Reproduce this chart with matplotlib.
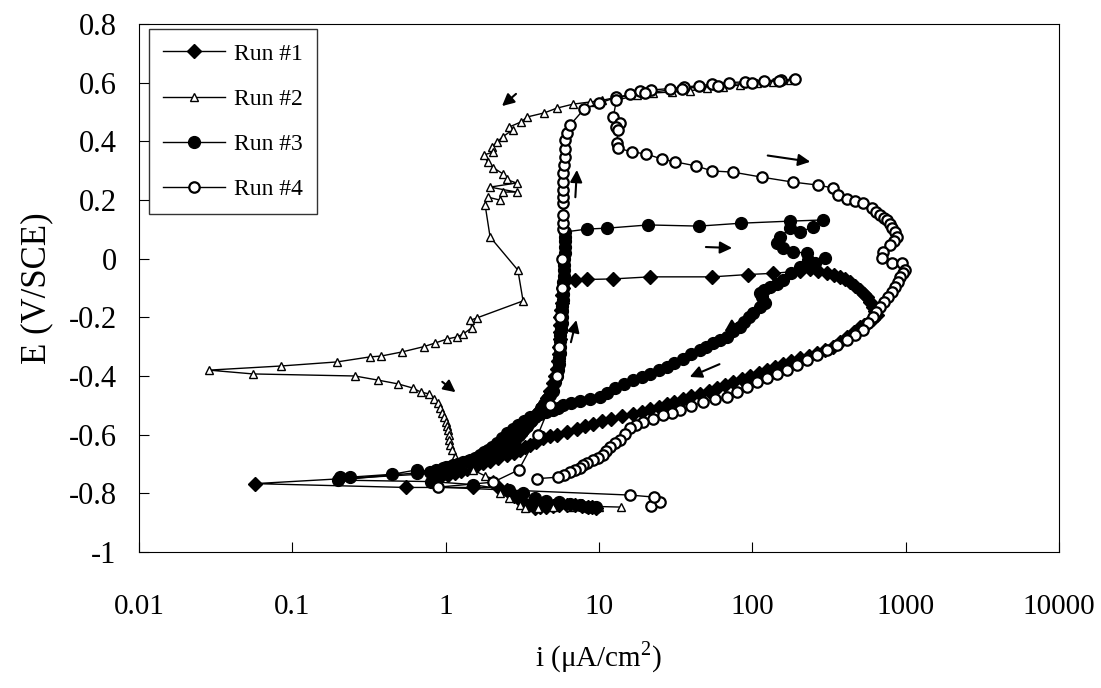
import matplotlib
matplotlib.use("Agg")
import matplotlib.pyplot as plt
import numpy as np

plt.rcParams['font.family'] = ['Liberation Serif', 'DejaVu Serif']
plt.rcParams['mathtext.fontset'] = 'custom'
plt.rcParams['mathtext.rm'] = 'Liberation Serif'
plt.rcParams['axes.unicode_minus'] = False

# datos: (i en uA/cm2, E en V/SCE)
run1 = [(9.5, -0.85), (9.0, -0.848), (8.5, -0.845), (7.8, -0.843), (7.0, -0.84), (6.2, -0.84),
        (5.5, -0.84), (5.0, -0.842), (4.5, -0.845), (4.1, -0.848), (3.8, -0.85), (3.5, -0.84),
        (3.2, -0.83), (3.0, -0.82), (2.8, -0.81), (2.65, -0.80), (2.5, -0.79), (2.2, -0.78),
        (1.5, -0.78), (0.55, -0.78), (0.057, -0.767),
        (1.0, -0.73), (1.3, -0.715), (1.6, -0.70), (1.9, -0.68), (2.2, -0.66), (2.5, -0.64),
        (2.8, -0.62), (3.05, -0.60), (3.3, -0.58), (3.55, -0.56), (3.8, -0.54), (4.05, -0.52),
        (4.3, -0.50), (4.55, -0.475), (4.8, -0.45), (5.0, -0.425), (5.2, -0.40), (5.3, -0.375),
        (5.4, -0.35), (5.45, -0.325), (5.5, -0.30), (5.55, -0.275), (5.6, -0.25), (5.6, -0.225),
        (5.6, -0.20), (5.65, -0.175), (5.7, -0.15), (5.75, -0.125), (5.8, -0.10), (6.0, -0.075),
        (7.0, -0.073), (8.3, -0.071), (12.4, -0.069), (21.5, -0.062), (55, -0.062), (94, -0.054),
        (137, -0.05), (205, -0.042), (238, -0.035),
        (270, -0.042), (307, -0.049), (340, -0.056), (374, -0.063), (405, -0.071), (435, -0.08),
        (470, -0.093), (505, -0.107), (535, -0.119), (561, -0.131), (590, -0.148), (614, -0.165),
        (635, -0.178), (652, -0.192), (610, -0.205), (569, -0.219), (535, -0.226), (505, -0.233),
        (460, -0.25), (415, -0.267), (375, -0.284), (336, -0.301), (300, -0.312), (265, -0.322),
        (235, -0.331), (205, -0.340), (180, -0.35), (159, -0.360), (140, -0.37), (125, -0.380),
        (110, -0.39), (97, -0.400), (86, -0.411), (75, -0.422), (66, -0.431), (59, -0.440),
        (52, -0.45), (45.7, -0.460), (40, -0.469), (35.4, -0.478), (31, -0.487), (27.8, -0.496),
        (24.5, -0.505), (21.5, -0.514), (19, -0.522), (16.7, -0.530), (14.2, -0.538), (12.0, -0.545),
        (10.5, -0.553), (9.2, -0.562), (8.1, -0.571), (7.2, -0.580), (6.2, -0.59), (5.3, -0.600),
        (4.8, -0.606), (4.3, -0.613), (3.9, -0.624), (3.55, -0.635), (3.3, -0.643), (3.06, -0.652),
        (2.8, -0.661), (2.52, -0.670), (2.2, -0.68), (1.95, -0.690), (1.75, -0.697), (1.6, -0.705),
        (1.48, -0.711), (1.38, -0.718), (1.26, -0.724), (1.16, -0.730), (1.04, -0.737), (0.92, -0.745)]

run2 = [(177, 0.609), (136, 0.603), (107, 0.600), (83, 0.592), (64, 0.585), (51, 0.582),
        (39, 0.572), (30, 0.568), (22.6, 0.565), (17.7, 0.558), (13, 0.550), (10.5, 0.540),
        (8.7, 0.534), (6.8, 0.527), (5.3, 0.513), (4.4, 0.497), (3.4, 0.483), (3.1, 0.466),
        (2.6, 0.449), (2.75, 0.440), (2.35, 0.415), (2.17, 0.398), (2.0, 0.380), (2.05, 0.364),
        (1.77, 0.353), (1.88, 0.330), (2.05, 0.310), (2.35, 0.290), (2.5, 0.270), (2.9, 0.258),
        (1.95, 0.244), (2.9, 0.227), (2.35, 0.227), (2.25, 0.200), (1.88, 0.210), (1.81, 0.183),
        (1.95, 0.074), (2.96, -0.039), (3.2, -0.144), (1.6, -0.202), (1.45, -0.210),
        (1.48, -0.236), (1.3, -0.257), (1.18, -0.267), (1.02, -0.274), (0.85, -0.288),
        (0.72, -0.300), (0.52, -0.318), (0.38, -0.332), (0.32, -0.335), (0.196, -0.352),
        (0.084, -0.366), (0.0286, -0.380), (0.0555, -0.393), (0.256, -0.400), (0.362, -0.414),
        (0.49, -0.427), (0.61, -0.441), (0.69, -0.455), (0.78, -0.461), (0.84, -0.478),
        (0.89, -0.492), (0.92, -0.509), (0.95, -0.526), (0.98, -0.541), (1.0, -0.557),
        (1.02, -0.570), (1.04, -0.584), (1.045, -0.600), (1.05, -0.618), (1.07, -0.635),
        (1.1, -0.652), (1.15, -0.676), (1.3, -0.700), (1.5, -0.720), (1.8, -0.740),
        (2.04, -0.751), (2.26, -0.799), (2.6, -0.816), (3.06, -0.840), (3.3, -0.850),
        (4.0, -0.850), (5.0, -0.845), (6.5, -0.845), (8.0, -0.845), (10.0, -0.845), (14.0, -0.847)]

run3 = [(9.5, -0.848), (8.5, -0.845), (7.5, -0.84), (6.5, -0.835), (5.5, -0.83), (4.5, -0.825),
        (3.8, -0.815), (3.2, -0.80), (2.6, -0.79), (1.5, -0.77), (0.8, -0.76), (0.2, -0.755),
        (0.65, -0.73), (1.0, -0.71), (1.2, -0.70), (1.4, -0.69), (1.6, -0.68), (1.8, -0.67),
        (2.0, -0.66), (2.2, -0.65), (2.4, -0.635), (2.6, -0.62), (2.8, -0.61), (3.0, -0.60),
        (3.2, -0.585), (3.4, -0.57), (3.6, -0.555), (3.8, -0.54), (4.0, -0.525), (4.2, -0.51),
        (4.4, -0.495), (4.6, -0.48), (4.8, -0.465), (5.0, -0.45), (5.2, -0.42), (5.3, -0.40),
        (5.4, -0.38), (5.45, -0.36), (5.5, -0.34), (5.55, -0.32), (5.6, -0.30), (5.6, -0.28),
        (5.6, -0.26), (5.65, -0.24), (5.7, -0.22), (5.7, -0.20), (5.7, -0.18), (5.75, -0.16),
        (5.8, -0.14), (5.8, -0.12), (5.8, -0.10), (5.85, -0.08), (5.9, -0.06), (5.9, -0.04),
        (5.9, -0.02), (5.95, 0.0), (6.0, 0.02), (6.0, 0.04), (6.0, 0.06), (6.0, 0.075),
        (6.0, 0.091), (8.4, 0.101), (11.3, 0.104), (21, 0.115), (45, 0.111), (85, 0.121),
        (177, 0.128), (290, 0.132),
        (249, 0.108), (205, 0.091), (177, 0.104), (152, 0.074), (145, 0.053), (159, 0.036),
        (185, 0.023), (228, 0.019), (257, -0.015), (299, 0.002), (231, -0.005), (205, -0.029),
        (180, -0.05), (159, -0.073), (145, -0.085), (131, -0.097), (120, -0.107), (112, -0.117),
        (115, -0.13), (121, -0.151), (112, -0.165), (101, -0.185), (95, -0.2), (88, -0.215),
        (83, -0.233), (75, -0.248), (68.5, -0.267), (62, -0.278), (55.5, -0.288), (50, -0.3),
        (45.7, -0.311), (40, -0.326), (35.4, -0.342), (31, -0.356), (27.8, -0.369), (24.5, -0.381),
        (21.5, -0.393), (19, -0.404), (16.7, -0.414), (14.5, -0.428), (12.7, -0.441), (11.3, -0.457),
        (10.2, -0.472), (8.7, -0.479), (7.5, -0.485), (6.6, -0.492), (5.8, -0.499), (5.4, -0.508),
        (5.0, -0.516), (4.5, -0.523), (4.13, -0.53), (3.8, -0.535), (3.55, -0.54), (3.25, -0.553),
        (2.97, -0.567), (2.75, -0.58), (2.52, -0.594), (2.33, -0.61), (2.16, -0.629), (2.0, -0.641),
        (1.89, -0.652), (1.78, -0.66), (1.68, -0.669), (1.55, -0.678), (1.44, -0.687), (1.3, -0.693),
        (1.2, -0.699), (1.12, -0.704), (1.04, -0.709), (0.96, -0.714), (0.87, -0.72), (0.79, -0.727),
        (0.65, -0.72), (0.45, -0.735), (0.238, -0.745), (0.205, -0.745)]

run4 = [(22, -0.843), (25, -0.83), (23, -0.813), (16, -0.806), (0.89, -0.779), (2.04, -0.762),
        (3.0, -0.72), (4.0, -0.60), (4.8, -0.50), (5.3, -0.40), (5.5, -0.30), (5.6, -0.20),
        (5.7, -0.10), (5.7, 0.0), (5.8, 0.10), (5.8, 0.12), (5.8, 0.15), (5.8, 0.19), (5.8, 0.21),
        (5.8, 0.234), (5.8, 0.26), (5.8, 0.292), (5.9, 0.32), (6.0, 0.347), (6.0, 0.375),
        (6.0, 0.404), (6.2, 0.43), (6.5, 0.456), (8.0, 0.51), (10, 0.53), (13, 0.55),
        (16, 0.56), (18.5, 0.57), (22, 0.575), (29, 0.58), (36, 0.585), (45, 0.59), (55, 0.595),
        (70, 0.60), (90, 0.603), (120, 0.607), (155, 0.609), (190, 0.612),
        (150, 0.607), (100, 0.60), (60, 0.59), (35, 0.58), (20, 0.565), (13, 0.54),
        (12.4, 0.483), (13.7, 0.462), (12.9, 0.449), (13.3, 0.44), (13.1, 0.394), (13.3, 0.377),
        (16.4, 0.364), (20.3, 0.357), (25.6, 0.34), (31.5, 0.33), (43, 0.316), (55, 0.299),
        (75, 0.295), (115, 0.278), (184, 0.261), (267, 0.251), (336, 0.241), (360, 0.217),
        (415, 0.203), (470, 0.197), (528, 0.19), (604, 0.173), (640, 0.16), (682, 0.149),
        (720, 0.14), (760, 0.132), (790, 0.118), (817, 0.104), (850, 0.09), (880, 0.074),
        (835, 0.06), (793, 0.046), (713, 0.023), (700, 0.002), (817, -0.015), (948, -0.015),
        (993, -0.039), (960, -0.05), (921, -0.063), (890, -0.08), (855, -0.097), (810, -0.114),
        (769, -0.131), (725, -0.148), (682, -0.165), (645, -0.182), (614, -0.199), (570, -0.221),
        (528, -0.243), (470, -0.26), (415, -0.277), (355, -0.294), (307, -0.311), (265, -0.328),
        (228, -0.346), (195, -0.363), (169, -0.38), (145, -0.393), (125, -0.407), (108, -0.422),
        (92.5, -0.438), (80, -0.455), (68.5, -0.472), (57, -0.48), (47.8, -0.489), (40, -0.503),
        (33.8, -0.516), (30, -0.525), (26.2, -0.533), (22.5, -0.545), (19.4, -0.557),
        (17.5, -0.567), (16, -0.577), (14.8, -0.597), (13.7, -0.618), (12.7, -0.63),
        (11.8, -0.642), (11.2, -0.655), (10.6, -0.669), (9.8, -0.678), (9.2, -0.687),
        (8.4, -0.697), (7.9, -0.705), (7.5, -0.714), (7.0, -0.721), (6.5, -0.728), (5.9, -0.737),
        (5.4, -0.745), (3.95, -0.75)]

# flechas: (i_cola, E_cola, i_punta, E_punta)
arrows = [(2.97, 0.568, 2.26, 0.514), (7.0, 0.20, 7.2, 0.312), (121, 0.353, 249, 0.329),
          (47.8, 0.040, 77, 0.036), (6.5, -0.294, 7.2, -0.20), (63.5, -0.356, 37.6, -0.407),
          (90, -0.201, 63.5, -0.254), (0.92, -0.414, 1.2, -0.461)]

fig = plt.figure(figsize=(11.01, 6.88), dpi=100)
ax = fig.add_axes([0.1262, 0.1977, 0.8356, 0.7674])

estilos = [
    (run1, 'Run #1', dict(marker='D', ms=7, mfc='black', mec='black')),
    (run2, 'Run #2', dict(marker='^', ms=6, mfc='white', mec='black', mew=1.0)),
    (run3, 'Run #3', dict(marker='o', ms=8.5, mfc='black', mec='black')),
    (run4, 'Run #4', dict(marker='o', ms=7.5, mfc='white', mec='black', mew=1.6)),
]
for datos, nombre, kw in estilos:
    d = np.array(datos)
    ax.plot(d[:, 0], d[:, 1], color='black', lw=1.0, label=nombre, **kw)

for x0, y0, x1, y1 in arrows:
    ax.annotate('', xy=(x1, y1), xytext=(x0, y0),
                arrowprops=dict(arrowstyle='-|>', color='black', lw=1.5, mutation_scale=18))

ax.set_xscale('log')
ax.set_xlim(0.01, 10000)
ax.set_ylim(-1, 0.8)
ax.set_xticks([0.01, 0.1, 1, 10, 100, 1000, 10000])
ax.set_xticklabels(['0.01', '0.1', '1', '10', '100', '1000', '10000'])
yt = np.round(np.arange(-1, 0.81, 0.2), 1)
ax.set_yticks(yt)
ax.set_yticklabels(['0' if abs(v) < 1e-9 else '%g' % v for v in yt])
ax.minorticks_off()
ax.tick_params(axis='both', direction='in', length=7)
ax.tick_params(axis='x', labelsize=21, pad=30)
ax.tick_params(axis='y', labelsize=22, pad=16)

ax.set_xlabel('i (μA/cm$^{2}$)', fontsize=21, labelpad=14)
ax.set_ylabel('E (V/SCE)', fontsize=25, labelpad=11)

leg = ax.legend(loc='upper left', bbox_to_anchor=(0.011, 0.9905), borderaxespad=0, fontsize=17,
                frameon=True, fancybox=False, edgecolor='black', handlelength=2.6,
                labelspacing=1.0, borderpad=0.6, handletextpad=0.4)
leg.get_frame().set_linewidth(1.0)

plt.savefig('out.png', dpi=100)
